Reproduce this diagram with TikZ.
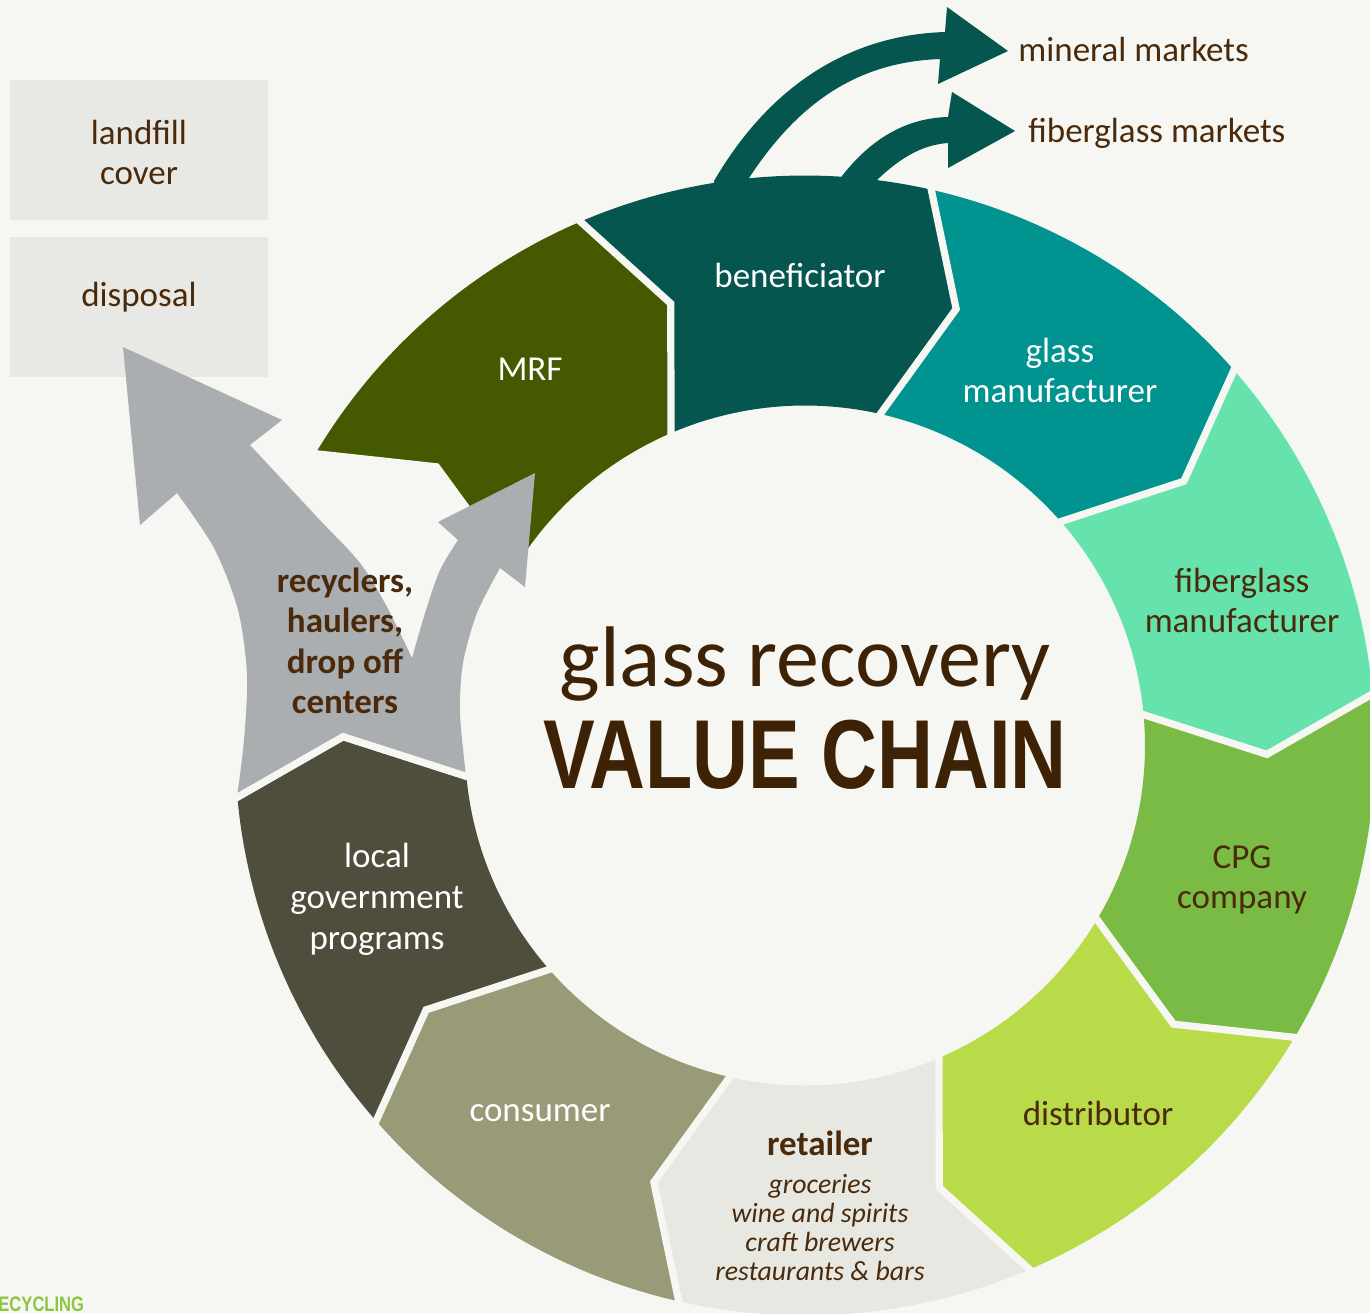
\documentclass[tikz,border=0pt]{standalone}
\usepackage{fontspec}
\usetikzlibrary{calc}
\setmainfont{Carlito}
\newfontfamily\condfont[FakeStretch=0.79]{Liberation Sans}
\definecolor{bg}{HTML}{F6F7F2}
\definecolor{mrf}{HTML}{455A00}
\definecolor{benef}{HTML}{05564F}
\definecolor{glassm}{HTML}{00938F}
\definecolor{fiberm}{HTML}{66E3AD}
\definecolor{cpg}{HTML}{7ABB45}
\definecolor{distr}{HTML}{B9DB4A}
\definecolor{retail}{HTML}{E8E8E3}
\definecolor{consum}{HTML}{999A77}
\definecolor{localg}{HTML}{4F4D3C}
\definecolor{recyc}{HTML}{ABAEB1}
\definecolor{boxc}{HTML}{E8E9E4}
\definecolor{labbrown}{HTML}{4A2A0B}
\definecolor{titlebrown}{HTML}{3D2206}
\definecolor{logogreen}{HTML}{8CC63F}
\begin{document}
\begin{tikzpicture}[x=0.5pt,y=-0.5pt,
  lab/.style={inner sep=0pt, align=center, font=\fontsize{17.5}{20}\selectfont},
  labw/.style={lab, text=white},
  labb/.style={lab, text=labbrown},
  boxn/.style={fill=boxc, inner sep=0pt, minimum width=129pt, minimum height=70pt},
  gapline/.style={draw=bg, line width=3.6pt, line join=miter},
]
\def\cx{805}\def\cy{745.5}\def\Ro{570}\def\Ri{340}\def\Rm{462}\def\toff{6.3}
\useasboundingbox (0,0) rectangle (1370,1313);
\clip (0,0) rectangle (1370,1313);
\fill[bg] (0,0) rectangle (1370,1313);

% side boxes
\node[boxn] (landfill) at (139,150) {};
\node[boxn] (disposal) at (139,307) {};

% market arrows out of the beneficiator
\fill[benef] (714,195) -- (714,181) .. controls (770,85) and (850,35) .. (945,32)
  -- (947,7) -- (1008,51) -- (938,84) -- (940,59)
  .. controls (860,62) and (800,100) .. (749,178) -- (749,195) -- cycle;
\fill[benef] (842,195) -- (842,176) .. controls (870,140) and (905,118) .. (948,117)
  -- (952,92) -- (1015,131) -- (948,168) -- (948,143)
  .. controls (920,145) and (898,160) .. (877,180) -- (877,195) -- cycle;

% ring segments
\foreach \a/\col in {-149.2/mrf, -113.2/benef, -77.2/glassm, -41.2/fiberm, -5.2/cpg, 30.8/distr, 66.8/retail, 102.8/consum, 138.8/localg}{
  \pgfmathsetmacro\sB{\a+36}
  \pgfmathsetmacro\sS{\a+\sB}
  \pgfmathsetmacro\tA{\a+\toff}
  \pgfmathsetmacro\tB{\sB+\toff}
  \fill[\col] plot[domain=\a:\sB, samples=40, variable=\t] ({\cx+\Ro*cos(\t)},{\cy+\Ro*sin(\t)})
    -- ({\cx+\Rm*cos(\tB)},{\cy+\Rm*sin(\tB)})
    -- plot[domain=\a:\sB, samples=40, variable=\t] ({\cx+\Ri*cos(\sS-(\t))},{\cy+\Ri*sin(\sS-(\t))})
    -- ({\cx+\Rm*cos(\tA)},{\cy+\Rm*sin(\tA)}) -- cycle;
}
% gaps between segments
\foreach \k in {0,...,9}{
  \pgfmathsetmacro\g{-113.2+36*\k}
  \pgfmathsetmacro\gt{\g+\toff}
  \coordinate (go) at ({\cx+\Ro*cos(\g)},{\cy+\Ro*sin(\g)});
  \coordinate (gt) at ({\cx+\Rm*cos(\gt)},{\cy+\Rm*sin(\gt)});
  \coordinate (gi) at ({\cx+\Ri*cos(\g)},{\cy+\Ri*sin(\g)});
  \draw[gapline] ($(go)!-0.25!(gt)$) -- (gt) -- ($(gi)!-0.25!(gt)$);
}

% recyclers split arrow
\coordinate (b9o) at ({\cx+\Ro*cos(174.8)},{\cy+\Ro*sin(174.8)});
\coordinate (b9t) at ({\cx+\Rm*cos(181.1)},{\cy+\Rm*sin(181.1)});
\coordinate (b9i) at ({\cx+\Ri*cos(174.8)},{\cy+\Ri*sin(174.8)});
\fill[recyc] (b9o) -- (b9t) -- (b9i)
  -- plot[smooth] coordinates {(466,776) (460,713) (463,663) (477,613) (500,568)}
  -- (525,587) -- (535,473) -- (438,522) -- (458,540)
  -- plot[smooth] coordinates {(458,540) (440,570) (426,610) (412,658)}
  -- plot[smooth] coordinates {(412,658) (387,607) (360,563) (317,517) (250,445)}
  -- (282,420) -- (123,347) -- (140,525) -- (177,493)
  -- plot[smooth] coordinates {(177,493) (214,548) (238,610) (247,675) (244,740) (237,797)}
  -- cycle;
\draw[gapline] ($(b9o)!-0.25!(b9t)$) -- (b9t) -- ($(b9i)!-0.25!(b9t)$);

% texts
\node[labb] (tLandfill) at (139,152) {landfill\\cover};
\node[labb] (tDisposal) at (139,297) {disposal};
\node[labb, anchor=west] (tMineral) at (1018,49) {mineral markets};
\node[labb, anchor=west] (tFiberM) at (1028,133) {fiberglass markets};
\node[labw] (tMRF) at (530,369) {MRF};
\node[labw] (tBen) at (800,275) {beneficiator};
\node[labw] (tGlass) at (1060,370) {glass\\manufacturer};
\node[labb] (tFiber) at (1242,600) {fiberglass\\manufacturer};
\node[labb] (tCPG) at (1242,880) {CPG\\company};
\node[labb] (tDist) at (1098,1113) {distributor};
\node[labb, font=\fontsize{17.5}{20}\selectfont\bfseries] (tRet) at (820,1143) {retailer};
\node[labb, font=\fontsize{13.9}{14.5}\selectfont\itshape] (tRetList) at (820,1228) {groceries\\wine and spirits\\craft brewers\\restaurants \& bars};
\node[labw] (tCons) at (540,1113) {consumer};
\node[labw, font=\fontsize{17.5}{20.5}\selectfont] (tLoc) at (377,899) {local\\government\\programs};
\node[labb, font=\fontsize{17.5}{20.2}\selectfont\bfseries] (tRec) at (345,641) {recyclers,\\haulers,\\drop off\\centers};
\node[inner sep=0pt, text=titlebrown, font=\fontsize{43}{48}\selectfont] (tTitle1) at (805,664) {glass recovery};
\node[inner sep=0pt, text=titlebrown, font=\condfont\bfseries\fontsize{49}{55}\selectfont] (tTitle2) at (805,755) {VALUE CHAIN};
\node[inner sep=0pt, anchor=base west, text=logogreen, font=\condfont\bfseries\fontsize{10.5}{12}\selectfont] (tLogo) at (-2,1311) {ECYCLING};
\end{tikzpicture}
\end{document}
